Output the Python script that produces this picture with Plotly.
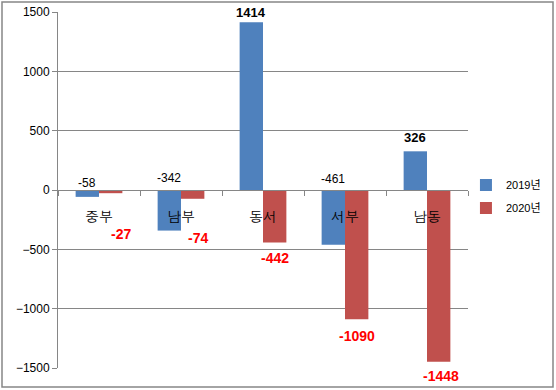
import plotly.graph_objects as go

categories = ["중부", "남부", "동서", "서부", "남동"]
values_2019 = [-58, -342, 1414, -461, 326]
values_2020 = [-27, -74, -442, -1090, -1448]
series_names = ["2019년", "2020년"]
y_ticks = [-1500, -1000, -500, 0, 500, 1000, 1500]

BLUE = "#4F81BD"
RED = "#C0504D"
GRID = "#868686"
BARGAP = 0.43
FONT = "Liberation Sans, Arial, Noto Sans CJK KR, sans-serif"
KFONT = "Dotum, Noto Sans CJK KR, sans-serif"

# label offsets (px, style only)
shift_2019 = [7, 12, 10, 11, 14]
shift_2020 = [41, 39, 16, 17, 14]
xshift_2020 = [10, 5, 0, 0, 2]

fig = go.Figure()
fig.add_trace(go.Bar(x=categories, y=values_2019, name=series_names[0],
                     marker=dict(color=BLUE, line=dict(width=0)),
                     legendgroup="a"))
fig.add_trace(go.Bar(x=categories, y=values_2020, name=series_names[1],
                     marker=dict(color=RED, line=dict(width=0)),
                     legendgroup="b"))

w = (1 - BARGAP) / 4
ann = []
for i, v in enumerate(values_2019):
    base = max(v, 0)
    ann.append(dict(x=i - w, y=base, xref="x", yref="y", text=f"{v}",
                    showarrow=False, yanchor="middle", yshift=shift_2019[i],
                    font=dict(family=FONT, size=13 if v > 0 else 12,
                              color="black",
                              weight="bold" if v > 0 else "normal")))
for i, v in enumerate(values_2020):
    ann.append(dict(x=i + w, y=v, xref="x", yref="y", text=f"<b>{v}</b>",
                    showarrow=False, yanchor="middle", yshift=-shift_2020[i],
                    xshift=xshift_2020[i],
                    font=dict(family=FONT, size=14, color="#FF0000")))

fig.update_layout(
    width=556, height=390,
    margin=dict(l=58, r=88, t=12, b=22, autoexpand=False),
    paper_bgcolor="white", plot_bgcolor="white",
    barmode="group", bargap=BARGAP, bargroupgap=0,
    annotations=ann,
    legend=dict(x=0.995, y=0.555, xanchor="left", yanchor="top",
                font=dict(family=FONT, size=11, color="black"),
                traceorder="grouped", tracegroupgap=4,
                itemwidth=30, bgcolor="rgba(0,0,0,0)"),
    xaxis=dict(type="category", anchor="free", position=0.5,
               showline=True, linecolor=GRID, linewidth=1,
               ticks="outside", tickson="boundaries", ticklen=5,
               tickcolor=GRID, showgrid=False, automargin=False,
               ticklabelstandoff=14,
               tickfont=dict(family=KFONT, size=14, color="black"),
               layer="above traces"),
    yaxis=dict(range=[-1500, 1500], tickvals=y_ticks,
               showgrid=True, gridcolor=GRID, gridwidth=1,
               showline=True, linecolor=GRID, linewidth=1,
               ticks="outside", ticklen=5, tickcolor=GRID,
               zeroline=False, automargin=False,
               tickfont=dict(family=FONT, size=12, color="black")),
    shapes=[dict(type="rect", xref="paper", yref="paper",
                 x0=(2 - 58) / 410, x1=(553 - 58) / 410,
                 y0=-19 / 356, y1=1 + 10 / 356,
                 line=dict(color=GRID, width=1.5), fillcolor="rgba(0,0,0,0)",
                 layer="below")],
)

fig.write_html("out.html",
               config={"displayModeBar": False},
               post_script="document.body.style.margin='0';"
                           "document.body.style.overflow='hidden';")
